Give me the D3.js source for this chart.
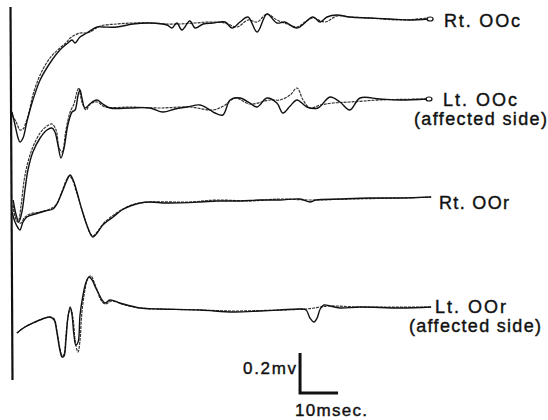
<!DOCTYPE html>
<html>
<head>
<meta charset="utf-8">
<script src="https://cdn.jsdelivr.net/npm/d3@7"></script>
<style>
  body { margin: 0; background: #fff; }
  text { font-family: "Liberation Sans", Arial, sans-serif; fill: #111; stroke: #111; stroke-width: 0.4px; }
</style>
</head>
<body>
<div id="chart"></div>
<script>
// time in msec, amplitude in microvolts (relative to each trace's baseline)
var rtOOcA = [[0,-445],[0.8,-510],[1.6,-575],[2.1,-595],[2.9,-575],[3.9,-495],[5.5,-385],[7.4,-285],[10,-200],[12.6,-135],[14.7,-100],[15.8,-85],[16.6,-100],[17.9,-70],[19.7,-50],[22.4,-20],[23.9,-20],[27.6,-20],[31.8,-5],[36.3,0],[40.8,-10],[42.1,-25],[43.4,0],[44.7,-35],[46.8,10],[48.2,-25],[50.3,-5],[52.9,0],[56.1,5],[57.9,-25],[60,5],[62.1,30],[64.5,-45],[67.1,45],[69.7,0],[71.8,5],[75,-25],[79.2,30],[81.1,5],[82.9,30],[85.5,40],[88.9,30],[94.2,25],[99.5,20],[104.7,15],[109.5,20]];
var rtOOcB = [[0,-460],[1.1,-495],[2.1,-535],[2.9,-530],[3.7,-495],[4.5,-445],[5.5,-360],[7.4,-260],[10,-175],[12.6,-125],[14.2,-100],[15.3,-75],[16.6,-60],[17.9,-50],[19.2,-50],[20.5,-45],[23.2,-15],[27.6,-5],[31.8,0],[36.3,0],[40.8,-5],[44.2,-5],[48.2,0],[52.1,5],[56.1,0],[59.2,-20],[62.1,15],[64.5,5],[67.1,45],[69.7,15],[72.4,-5],[75,-20],[77.1,5],[79.2,25],[82.4,5],[85.5,35],[88.9,30],[94.2,25],[102.1,15],[109.5,25]];

var ltOOcA = [[0.3,-475],[1.1,-550],[1.8,-585],[2.6,-535],[3.4,-425],[4.2,-325],[5.5,-235],[7.4,-165],[9.2,-125],[10.5,-115],[11.3,-135],[12.1,-200],[12.9,-265],[13.7,-215],[14.7,-100],[15.8,-35],[16.6,-25],[17.4,50],[17.9,75],[18.4,35],[19.2,-15],[20,-5],[21.1,15],[22.4,25],[23.9,5],[25.8,-15],[31.1,-15],[36.3,-15],[39.7,-35],[42.9,-20],[46.1,-10],[49.5,0],[52.1,-25],[53.4,-40],[55.5,-50],[57.4,25],[60,35],[62.6,10],[64.5,-10],[67.1,35],[69.7,10],[71.3,-40],[73.2,-5],[75,25],[77.6,-10],[80.5,-15],[83.7,40],[86.3,15],[88.9,-25],[91.6,35],[96.8,30],[102.1,25],[109.2,30]];
var ltOOcB = [[0.3,-500],[1.1,-575],[1.6,-585],[2.4,-500],[3.2,-375],[4.2,-285],[5.5,-210],[7.4,-140],[9.2,-105],[10.5,-95],[11.6,-125],[12.4,-215],[13.2,-235],[14.2,-125],[15.3,-35],[16.3,5],[17.1,65],[17.6,85],[18.4,15],[19.5,-25],[20.5,5],[22.4,15],[24.5,-10],[31.1,-10],[38.9,-15],[46.8,-10],[52.9,-25],[56.1,0],[58.7,35],[62.6,5],[67.9,25],[70.5,25],[73.2,50],[75,85],[76.6,25],[78.4,-15],[81.1,0],[84.5,10],[88.9,15],[96.8,25],[109.2,30]];

var rtOOrA = [[0,-50],[0.8,-100],[1.6,-130],[2.1,-140],[2.9,-100],[3.9,-75],[6.1,-60],[8.7,-45],[10.8,-35],[11.8,-10],[13.2,50],[14.5,110],[15.3,135],[16.1,110],[17.1,50],[18.4,-40],[19.7,-115],[20.8,-165],[21.3,-175],[22.4,-155],[23.9,-115],[26.6,-75],[28.9,-40],[31.1,-20],[33.7,-5],[36.3,0],[40.8,-5],[49.5,0],[53.9,5],[60,5],[65.3,10],[70.5,10],[75.8,15],[78.4,0],[80,10],[86.3,15],[94.2,20],[102.1,20],[110.3,25]];
var rtOOrB = [[0,-15],[0.8,-70],[1.6,-100],[2.4,-105],[3.2,-80],[4.7,-60],[7.4,-50],[10,-35],[11.6,-15],[12.9,40],[14.2,105],[15,130],[15.8,115],[16.8,60],[18.2,-25],[19.5,-105],[20.5,-155],[21.3,-170],[22.6,-145],[24.2,-105],[27.1,-60],[29.7,-30],[32.4,-10],[36.3,0],[46.8,0],[53.9,10],[62.6,5],[70.5,15],[78.4,10],[88.9,15],[102.1,20],[110.3,25]];

var ltOOrA = [[1.3,-125],[3.4,-95],[6.1,-70],[8.7,-50],[10,-45],[11.1,-60],[11.8,-120],[12.6,-210],[13.2,-245],[13.7,-240],[14.2,-160],[14.7,-50],[15.3,5],[15.8,-35],[16.3,-135],[16.8,-185],[17.4,-170],[17.9,-35],[18.7,65],[19.5,130],[20.3,155],[21.1,140],[21.8,110],[22.6,80],[23.7,40],[24.5,25],[25.8,40],[28.4,25],[33.7,0],[38.9,-5],[49.5,-10],[58.2,-20],[65.3,-15],[70.5,-10],[75.8,-5],[77.4,-10],[78.4,-50],[79.5,-70],[80.3,-50],[81.1,-5],[82.1,15],[83.7,10],[86.3,0],[91.6,5],[102.1,0],[110.3,5]];
var ltOOrB = [[1.3,-125],[3.4,-95],[6.1,-70],[8.7,-50],[10,-45],[11.1,-55],[11.8,-110],[12.6,-200],[13.2,-240],[13.7,-230],[14.2,-135],[15,-20],[15.5,-5],[16.1,-60],[16.6,-160],[17.1,-210],[17.4,-220],[17.9,-160],[18.4,-20],[19.2,90],[20,150],[20.8,160],[21.6,130],[22.4,90],[23.4,40],[24.5,20],[26.3,35],[29.7,15],[33.7,0],[49.5,-10],[58.2,-15],[70.5,-10],[77.4,-5],[79.5,0],[81.1,5],[83.7,10],[91.6,5],[110.3,5]];

var labels = ["Rt. OOc", "Lt. OOc", "Rt. OOr", "Lt. OOr"];
var subLabels = ["", "(affected side)", "", "(affected side)"];
var scaleBar = { ms: 10, uv: 200, msText: "10msec.", uvText: "0.2mv" };

var width = 548, height = 420;

var svg = d3.select("#chart").append("svg")
    .attr("width", width)
    .attr("height", height);

var x = d3.scaleLinear().domain([0, 110]).range([12, 430]);
var y = d3.scaleLinear().domain([0, -2100]).range([0, 420]);

// vertical offset of each trace pair (microvolts down the page)
var offsets = [-115, -525, -1010, -1540];

var traces = [
    { a: rtOOcA, b: rtOOcB, loop: true },
    { a: ltOOcA, b: ltOOcB, loop: true },
    { a: rtOOrA, b: rtOOrB, loop: false },
    { a: ltOOrA, b: ltOOrB, loop: false }
];

// stimulus line
svg.append("line")
    .attr("x1", x(0) - 1.5).attr("y1", 7)
    .attr("x2", x(0) + 0.5).attr("y2", 380)
    .attr("stroke", "#111")
    .attr("stroke-width", 2.2);

traces.forEach(function(t, i) {
    var line = d3.line()
        .x(d => x(d[0]))
        .y(d => y(offsets[i] + d[1]))
        .curve(d3.curveCatmullRom);

    svg.append("path")
        .attr("d", line(t.b))
        .attr("fill", "none")
        .attr("stroke", "#333")
        .attr("stroke-width", 1.2)
        .attr("stroke-dasharray", "3,1");

    svg.append("path")
        .attr("d", line(t.a))
        .attr("fill", "none")
        .attr("stroke", "#111")
        .attr("stroke-width", 1.4);

    var last = t.a[t.a.length - 1];
    if (t.loop) {
        svg.append("ellipse")
            .attr("cx", x(last[0]) + 2)
            .attr("cy", y(offsets[i] + last[1]))
            .attr("rx", 3).attr("ry", 2)
            .attr("fill", "none")
            .attr("stroke", "#111")
            .attr("stroke-width", 1.2);
    }
});

// labels
var labelPos = [[444, 27, 76], [443, 106, 74], [439, 209, 70], [435, 313, 71]];
var subPos = [null, [414, 125, 133], null, [409, 332, 132]];

svg.selectAll(".lab")
    .data(labels)
    .enter()
    .append("text")
    .attr("class", "lab")
    .attr("x", (d, i) => labelPos[i][0])
    .attr("y", (d, i) => labelPos[i][1])
    .attr("textLength", (d, i) => labelPos[i][2])
    .attr("lengthAdjust", "spacing")
    .style("font-size", "18px")
    .text(d => d);

subLabels.forEach(function(s, i) {
    if (!s) return;
    svg.append("text")
        .attr("x", subPos[i][0])
        .attr("y", subPos[i][1])
        .attr("textLength", subPos[i][2])
        .attr("lengthAdjust", "spacing")
        .style("font-size", "18px")
        .text(s);
});

// scale bar
var barT = 75.8, barV = -1965;
svg.append("path")
    .attr("d", "M" + x(barT) + "," + y(barV + scaleBar.uv) +
               "V" + y(barV) +
               "H" + x(barT + scaleBar.ms))
    .attr("fill", "none")
    .attr("stroke", "#111")
    .attr("stroke-width", 3);

svg.append("text")
    .attr("x", x(barT) - 4)
    .attr("y", 374)
    .attr("text-anchor", "end")
    .attr("textLength", 53)
    .attr("lengthAdjust", "spacing")
    .style("font-size", "17px")
    .text(scaleBar.uvText);

svg.append("text")
    .attr("x", x(barT) - 5)
    .attr("y", 416)
    .attr("textLength", 72)
    .attr("lengthAdjust", "spacing")
    .style("font-size", "17px")
    .text(scaleBar.msText);
</script>
</body>
</html>
